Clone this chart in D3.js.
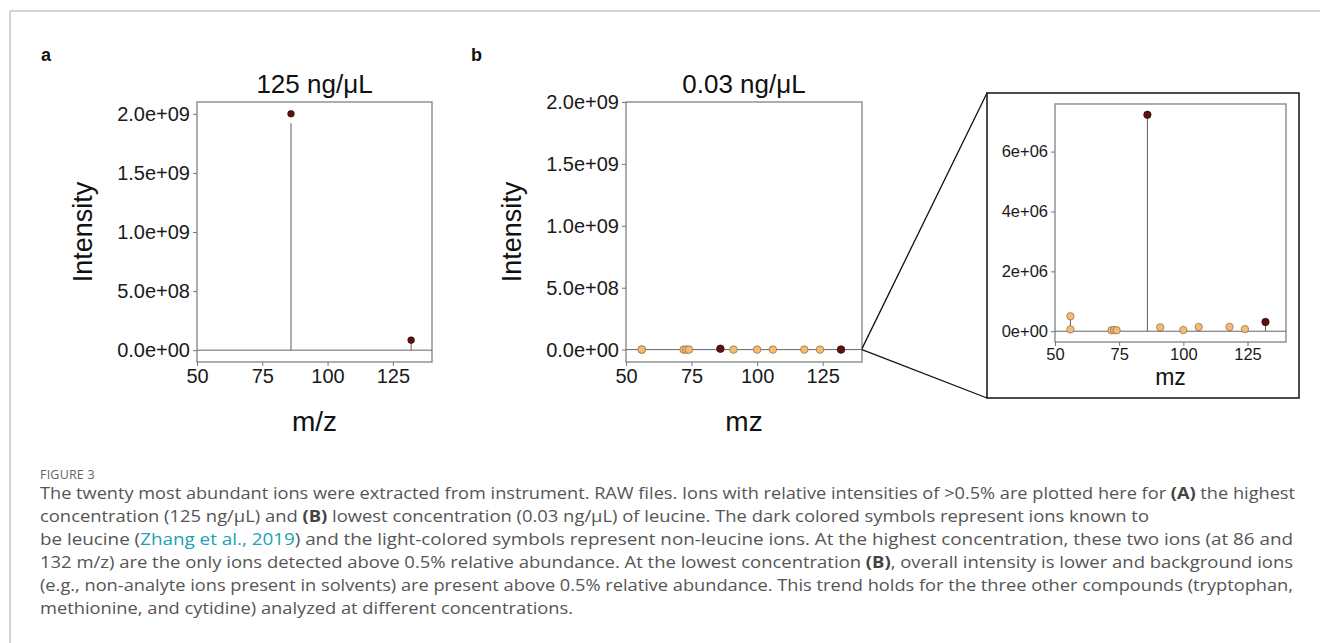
<!DOCTYPE html>
<html><head><meta charset="utf-8">
<script src="https://cdn.jsdelivr.net/npm/d3@7"></script>
<style>
html,body{margin:0;padding:0;background:#fff;}
svg{display:block;}
</style></head>
<body>
<svg id="chart" width="1320" height="643"></svg>
<script>
// ---------- data ----------
const xTicks = [50, 75, 100, 125];
const yTicksMain = [0, 5e8, 1e9, 1.5e9, 2e9];
const yTickLabelsMain = ["0.0e+00", "5.0e+08", "1.0e+09", "1.5e+09", "2.0e+09"];
const yTicksInset = [0, 2e6, 4e6, 6e6];
const yTickLabelsInset = ["0e+00", "2e+06", "4e+06", "6e+06"];

// panel a: 125 ng/uL
const mzA = [86, 132];
const intensityA = [2.0e9, 8.5e7];
const stemA = [1.92e9, 7.0e7];
const typeA = ["leucine", "leucine"];

// panel b: 0.03 ng/uL (also used by inset)
const mzB = [56, 56, 72, 73, 74, 86, 91, 100, 106, 118, 124, 132];
const intensityB = [6e4, 5.0e5, 3e4, 4e4, 3e4, 7.23e6, 1.3e5, 4e4, 1.4e5, 1.45e5, 7e4, 3.1e5];
const typeB = ["other","other","other","other","other","leucine","other","other","other","other","other","leucine"];

const captionLines = [
  [["The twenty most abundant ions were extracted from instrument. RAW files. Ions with relative intensities of >0.5% are plotted here for ","n"],["(A)","b"],[" the highest","n"]],
  [["concentration (125 ng/μL) and ","n"],["(B)","b"],[" lowest concentration (0.03 ng/μL) of leucine. The dark colored symbols represent ions known to","n"]],
  [["be leucine (","n"],["Zhang et al., 2019","l"],[") and the light-colored symbols represent non-leucine ions. At the highest concentration, these two ions (at 86 and","n"]],
  [["132 m/z) are the only ions detected above 0.5% relative abundance. At the lowest concentration ","n"],["(B)","b"],[", overall intensity is lower and background ions","n"]],
  [["(e.g., non-analyte ions present in solvents) are present above 0.5% relative abundance. This trend holds for the three other compounds (tryptophan,","n"]],
  [["methionine, and cytidine) analyzed at different concentrations.","n"]]
];
const captionEnds = [1295, 1149, 1293, 1293, 1293, 573];

// ---------- styles ----------
const FONT = "'Liberation Sans', Arial, sans-serif";
const DARK = "#5e1111";
const LIGHT = "#f6bb73";
const svg = d3.select("#chart");

// outer frame
svg.append("line").attr("x1",10).attr("x2",1320).attr("y1",11).attr("y2",11).attr("stroke","#c4c4c4").attr("stroke-width",1.5);
svg.append("line").attr("x1",10).attr("x2",10).attr("y1",11).attr("y2",643).attr("stroke","#c4c4c4").attr("stroke-width",1.5);

svg.append("text").attr("x",41).attr("y",61).text("a").attr("font-family",FONT).attr("font-weight","bold").attr("font-size",18).attr("fill","#111");
svg.append("text").attr("x",471).attr("y",61).text("b").attr("font-family",FONT).attr("font-weight","bold").attr("font-size",18).attr("fill","#111");

function drawPanel(o) {
  const g = svg.append("g");
  const x = d3.scaleLinear().domain([50,140]).range([o.left, o.right]);
  const y = d3.scaleLinear().domain(o.yDomain).range([o.bottom, o.top]);
  // box
  g.append("rect").attr("x",o.left).attr("y",o.top).attr("width",o.right-o.left).attr("height",o.bottom-o.top)
    .attr("fill","none").attr("stroke","#8a8a8a").attr("stroke-width",1.4);
  // zero line
  g.append("line").attr("x1",o.left).attr("x2",o.right).attr("y1",y(0)).attr("y2",y(0)).attr("stroke","#666").attr("stroke-width",1);
  // axes
  const xa = g.append("g").attr("transform",`translate(0,${o.bottom})`)
    .call(d3.axisBottom(x).tickValues(xTicks).tickSize(4).tickPadding(o.pad));
  const ya = g.append("g").attr("transform",`translate(${o.left},0)`)
    .call(d3.axisLeft(y).tickValues(o.yTicks).tickFormat((d,i)=>o.yLabels[i]).tickSize(4).tickPadding(3));
  [xa, ya].forEach(a => {
    a.select(".domain").remove();
    a.selectAll("line").attr("stroke","#777");
    a.selectAll("text").attr("font-family",FONT).attr("font-size",o.tickFont).attr("fill","#1a1a1a");
  });
  // stems
  g.selectAll(".stem").data(o.mz).join("line")
    .attr("x1",d=>x(d)).attr("x2",d=>x(d))
    .attr("y1",y(0)).attr("y2",(d,i)=>y(o.stem[i]))
    .attr("stroke","#5a5a5a").attr("stroke-width",1);
  // points
  g.selectAll(".pt").data(o.mz).join("circle")
    .attr("cx",d=>x(d)).attr("cy",(d,i)=>y(o.val[i])).attr("r",o.r)
    .attr("fill",(d,i)=>o.type[i]==="leucine"?DARK:LIGHT)
    .attr("stroke",(d,i)=>o.type[i]==="leucine"?"#2a0505":"#8a6a45").attr("stroke-width",0.7);
  // labels
  if (o.title) g.append("text").attr("x",(o.left+o.right)/2).attr("y",o.top-9).attr("text-anchor","middle")
    .attr("font-family",FONT).attr("font-size",26).attr("fill","#111").text(o.title);
  if (o.ylab) g.append("text").attr("transform",`translate(${o.ylabX},${(o.top+o.bottom)/2}) rotate(-90)`)
    .attr("text-anchor","middle").attr("dominant-baseline","central")
    .attr("font-family",FONT).attr("font-size",27).attr("fill","#111").text(o.ylab);
  g.append("text").attr("x",(o.left+o.right)/2).attr("y",o.xlabY).attr("text-anchor","middle")
    .attr("font-family",FONT).attr("font-size",o.xlabFont).attr("fill","#111").text(o.xlab);
  return {x,y};
}

drawPanel({left:197, right:432, top:102, bottom:362, yDomain:[-1e8,2.1e9], yTicks:yTicksMain, yLabels:yTickLabelsMain,
  tickFont:20, pad:3, mz:mzA, val:intensityA, stem:stemA, type:typeA, r:3.3, title:"125 ng/μL", ylab:"Intensity", ylabX:83,
  xlab:"m/z", xlabY:431, xlabFont:28});

const pb = drawPanel({left:626, right:862, top:102, bottom:362, yDomain:[-1e8,2e9], yTicks:yTicksMain, yLabels:yTickLabelsMain,
  tickFont:20, pad:3, mz:mzB, val:intensityB, stem:intensityB, type:typeB, r:3.8, title:"0.03 ng/μL", ylab:"Intensity", ylabX:512,
  xlab:"mz", xlabY:431, xlabFont:28});

// inset
const insetFrame = {x1:987, y1:93, x2:1299, y2:398};
svg.append("rect").attr("x",insetFrame.x1).attr("y",insetFrame.y1).attr("width",insetFrame.x2-insetFrame.x1).attr("height",insetFrame.y2-insetFrame.y1)
  .attr("fill","#fff").attr("stroke","#111").attr("stroke-width",1.5);
const zx = pb.x(140), zy = pb.y(0);
svg.append("line").attr("x1",zx).attr("y1",zy-1).attr("x2",insetFrame.x1).attr("y2",insetFrame.y1).attr("stroke","#111").attr("stroke-width",1.3);
svg.append("line").attr("x1",zx).attr("y1",zy).attr("x2",insetFrame.x1).attr("y2",insetFrame.y2).attr("stroke","#111").attr("stroke-width",1.3);

drawPanel({left:1055, right:1286, top:104, bottom:342, yDomain:[-3.6e5,7.59e6], yTicks:yTicksInset, yLabels:yTickLabelsInset,
  tickFont:16.5, pad:2, mz:mzB, val:intensityB, stem:intensityB, type:typeB, r:3.7, title:null, ylab:null,
  xlab:"mz", xlabY:385, xlabFont:23});

// caption
svg.append("text").attr("x",40).attr("y",479).attr("font-family","'Open Sans', sans-serif").attr("font-size",12.5)
  .attr("fill","#666").attr("letter-spacing",0.2).text("FIGURE 3");
captionLines.forEach((line,i)=>{
  const t = svg.append("text").attr("x",40).attr("y",499 + i*23).attr("font-family","'Open Sans', sans-serif")
    .attr("font-size",16).attr("fill","#555");
  line.forEach(([s,k])=>{
    const ts = t.append("tspan").text(s);
    if (k==="b") ts.attr("font-weight","bold").attr("fill","#444");
    if (k==="l") ts.attr("fill","#1ba0b8");
  });
  if (captionEnds[i]) t.attr("textLength",captionEnds[i]-40).attr("lengthAdjust","spacingAndGlyphs");
});
</script>
</body></html>
